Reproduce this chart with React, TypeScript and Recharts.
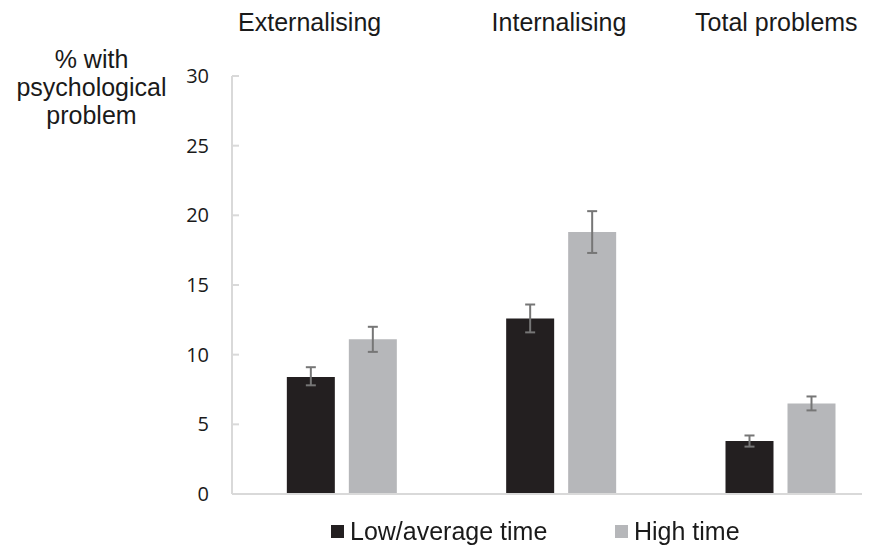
import { BarChart, Bar, XAxis, YAxis, ErrorBar } from 'recharts';

const categories = ['Externalising', 'Internalising', 'Total problems'];
const lowAvg = [8.4, 12.6, 3.8];
const lowAvgCi = [[7.8, 9.1], [11.6, 13.6], [3.4, 4.2]];
const highTime = [11.1, 18.8, 6.5];
const highTimeCi = [[10.2, 12.0], [17.3, 20.3], [6.0, 7.0]];
const yTicks = [0, 5, 10, 15, 20, 25, 30];
const yTitle = ['% with', 'psychological', 'problem'];

const series = [
  { key: 'low', err: 'lowErr', name: 'Low/average time', color: '#231f20' },
  { key: 'high', err: 'highErr', name: 'High time', color: '#b6b7ba' },
];

const data = categories.map((category, i) => ({
  category,
  low: lowAvg[i],
  lowErr: [lowAvg[i] - lowAvgCi[i][0], lowAvgCi[i][1] - lowAvg[i]],
  high: highTime[i],
  highErr: [highTime[i] - highTimeCi[i][0], highTimeCi[i][1] - highTime[i]],
}));

const SANS = "'Liberation Sans', Arial, sans-serif";
// top labels in the original sit a little left of their groups
const topShift = [-32, -2, -4];

function TopTick(props: any) {
  const { x, y, payload, index } = props;
  return (
    <text x={x + (topShift[index] ?? 0)} y={y} textAnchor="middle" fontFamily={SANS} fontSize={25} fill="#1a1a1a">
      {payload.value}
    </text>
  );
}

export default function App() {
  return (
    <div style={{ position: 'fixed', left: 0, top: 0, width: 890, height: 545, background: '#fff' }}>
      <div
        style={{
          position: 'absolute',
          left: 0,
          top: 45,
          width: 183,
          textAlign: 'center',
          fontFamily: SANS,
          fontSize: 25,
          lineHeight: '28px',
          color: '#1a1a1a',
        }}
      >
        {yTitle.map((t) => (
          <div key={t}>{t}</div>
        ))}
      </div>
      <BarChart
        width={890}
        height={545}
        data={data}
        margin={{ top: 0, right: 0, left: 0, bottom: 0 }}
        barGap={14}
        barCategoryGap="25%"
      >
        <XAxis
          xAxisId="top"
          dataKey="category"
          orientation="top"
          height={76}
          axisLine={false}
          tickLine={false}
          tickSize={0}
          tickMargin={45}
          tick={<TopTick />}
        />
        <XAxis
          xAxisId="bottom"
          dataKey="category"
          height={51}
          tick={false}
          tickLine={false}
          axisLine={{ stroke: '#d9d9d9', strokeWidth: 2, strokeDasharray: '630 300' }}
        />
        <YAxis
          width={232}
          domain={[0, 30]}
          ticks={yTicks}
          interval={0}
          tickSize={-7}
          tickMargin={30}
          axisLine={{ stroke: '#d9d9d9', strokeWidth: 2 }}
          tickLine={{ stroke: '#d9d9d9', strokeWidth: 2 }}
          tick={{ fontFamily: "'Open Sans', sans-serif", fontSize: 20, fill: '#1a1a1a' }}
        />
        {series.map((s) => (
          <Bar key={s.key} xAxisId="bottom" dataKey={s.key} name={s.name} fill={s.color} isAnimationActive={false}>
            <ErrorBar dataKey={s.err} width={5} stroke="#767676" strokeWidth={2} isAnimationActive={false} />
          </Bar>
        ))}
      </BarChart>
      <div
        style={{
          position: 'absolute',
          left: 331,
          top: 517,
          display: 'flex',
          alignItems: 'center',
          fontFamily: SANS,
          fontSize: 25,
          color: '#1a1a1a',
        }}
      >
        {series.map((s) => (
          <div key={s.key} style={{ display: 'flex', alignItems: 'center', width: 284 }}>
            <span style={{ display: 'inline-block', width: 13, height: 13, background: s.color, marginRight: 6 }} />
            <span>{s.name}</span>
          </div>
        ))}
      </div>
    </div>
  );
}
